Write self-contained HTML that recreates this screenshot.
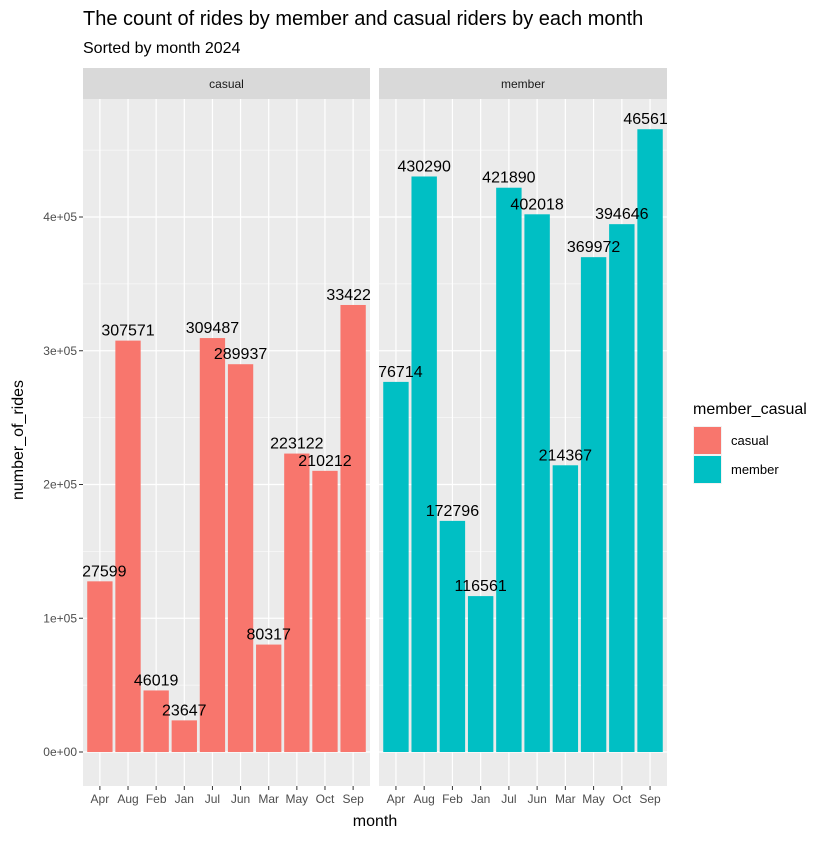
<!DOCTYPE html>
<html><head><meta charset="utf-8"><style>
body{margin:0;background:#fff;font-family:"Liberation Sans",sans-serif}
</style></head><body>
<svg id="c" width="840" height="840" xmlns="http://www.w3.org/2000/svg" font-family="Liberation Sans, sans-serif">
<rect width="840" height="840" fill="#fff"/>
<text x="83" y="25" font-size="20" fill="#000">The count of rides by member and casual riders by each month</text>
<text x="83" y="53" font-size="16" fill="#000">Sorted by month 2024</text>
<g id="plot"></g>
<text x="375" y="826" font-size="16" text-anchor="middle">month</text>
<text transform="translate(23,440) rotate(-90)" font-size="16" text-anchor="middle">number_of_rides</text>
<g>
<text x="693" y="414" font-size="16">member_casual</text>
<rect x="693" y="426" width="29" height="29" fill="#F2F2F2"/>
<rect x="694" y="427" width="27" height="27" fill="#F8766D"/>
<text x="731" y="445" font-size="13">casual</text>
<rect x="693" y="455" width="29" height="29" fill="#F2F2F2"/>
<rect x="694" y="456" width="27" height="27" fill="#00BFC4"/>
<text x="731" y="474" font-size="13">member</text>
</g>
</svg>
<script>
const months = ["Apr","Aug","Feb","Jan","Jul","Jun","Mar","May","Oct","Sep"];
const casualValues = [127599,307571,46019,23647,309487,289937,80317,223122,210212,334224];
const memberValues = [276714,430290,172796,116561,421890,402018,214367,369972,394646,465614];
const yTicks = [0,100000,200000,300000,400000];
const yTickLabels = ["0e+00","1e+05","2e+05","3e+05","4e+05"];
const NS="http://www.w3.org/2000/svg";
const g=document.getElementById('plot');
const panelTop=99, panelBot=786;
function y(v){return 752 - v*133.75/100000;}
function mk(t,a,p){const e=document.createElementNS(NS,t);for(const k in a)e.setAttribute(k,a[k]);(p||g).appendChild(e);return e;}
const panels=[{name:"casual",x0:83,x1:370,vals:casualValues,col:"#F8766D"},{name:"member",x0:379,x1:667,vals:memberValues,col:"#00BFC4"}];
panels.forEach((p,pi)=>{
  const w=p.x1-p.x0, u=w/(months.length+0.2);
  const x=i=>p.x0+u*(i+0.6);
  const pg=mk('g',{});
  
  
  mk('rect',{x:p.x0,y:panelTop,width:w,height:panelBot-panelTop,fill:'#EBEBEB'},pg);
  const cp=mk('clipPath',{id:'cp'+pi},pg);
  mk('rect',{x:p.x0,y:panelTop,width:w,height:panelBot-panelTop},cp);
  yTicks.forEach(t=>{mk('line',{x1:p.x0,x2:p.x1,y1:y(t+50000),y2:y(t+50000),stroke:'#fff','stroke-width':0.6},pg);});
  yTicks.forEach(t=>{mk('line',{x1:p.x0,x2:p.x1,y1:y(t),y2:y(t),stroke:'#fff','stroke-width':1.2},pg);});
  months.forEach((m,i)=>{mk('line',{x1:x(i),x2:x(i),y1:panelTop,y2:panelBot,stroke:'#fff','stroke-width':1.2},pg);});
  const cg=mk('g',{'clip-path':'url(#cp'+pi+')'},pg);
  const lg=mk('g',{'clip-path':'url(#cp'+pi+')'},pg);
  p.vals.forEach((v,i)=>{
    const mon=months[i];
    const b=mk('rect',{x:x(i)-0.45*u,y:y(v),width:0.9*u,height:y(0)-y(v),fill:p.col},cg);
    
    
    const t=mk('text',{x:x(i),y:y(v)-5,'font-size':16,'text-anchor':'middle',fill:'#000'},lg);
    t.textContent=v;
    
    
    mk('line',{x1:x(i),x2:x(i),y1:panelBot,y2:panelBot+4,stroke:'#333','stroke-width':1},pg);
    const tl=mk('text',{x:x(i),y:panelBot+17,'font-size':12,'text-anchor':'middle',fill:'#4D4D4D'},pg);
    tl.textContent=mon;
    
    
  });
  mk('rect',{x:p.x0,y:68,width:w,height:31,fill:'#D9D9D9'},pg);
  const st=mk('text',{x:(p.x0+p.x1)/2,y:88,'font-size':12,'text-anchor':'middle',fill:'#1A1A1A'},pg);
  st.textContent=p.name;
  
  
});
yTicks.forEach((t,i)=>{
  mk('line',{x1:79,x2:83,y1:y(t),y2:y(t),stroke:'#333','stroke-width':1});
  const tl=mk('text',{x:77,y:y(t)+4,'font-size':12,'text-anchor':'end',fill:'#4D4D4D'});
  tl.textContent=yTickLabels[i];
  
  
});
</script>
</body></html>
